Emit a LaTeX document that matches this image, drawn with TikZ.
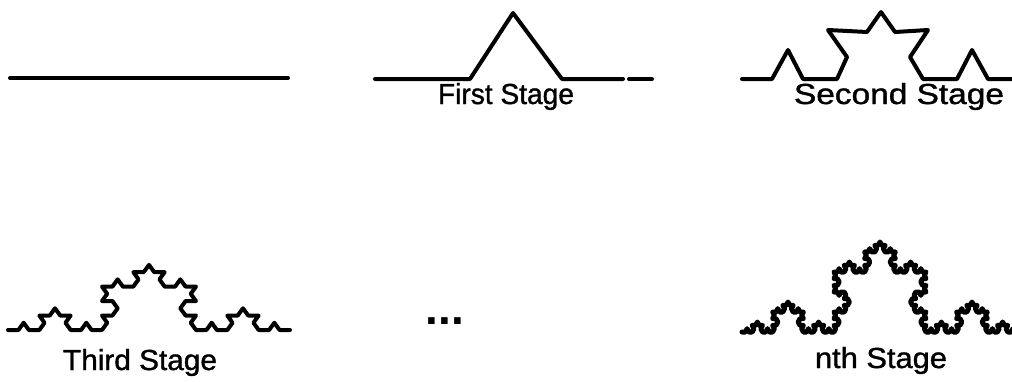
\documentclass[tikz,border=0pt]{standalone}
\usepackage{fontspec}
\setmainfont{Liberation Sans}
\newfontfamily\lblfont[FakeBold=1.2]{Liberation Sans}
\usepackage{graphicx}
\usetikzlibrary{lindenmayersystems}
\pgfdeclarelindenmayersystem{Koch}{\rule{F -> F+F--F+F}}
\tikzset{
  curve/.style={line width=4pt, line join=round, line cap=round},
  lbl/.style={font=\lblfont\fontsize{29}{34}\selectfont, anchor=base, inner sep=0pt},
}
\newcommand{\fitw}[2]{\resizebox{#1pt}{\height}{#2}}
\begin{document}
\begin{tikzpicture}[x=1pt,y=-1pt]
\useasboundingbox (0,0) rectangle (1012,381);
\clip (0,0) rectangle (1012,381);
% stage 0
\coordinate (s0a) at (10,78);
\coordinate (s0b) at (288,78);
\draw[curve] (s0a) -- (s0b);
% stage 1
\draw[curve] (375,79) -- (470,79) -- (513,13) -- (562,79) -- (623,79);
\draw[curve] (629,79) -- (652,79);
% stage 2
\draw[curve] (742,79) -- (772,79) -- (788,50) -- (803,79) -- (837,79) -- (847,57)
  -- (828,30) -- (867,32) -- (881,12) -- (895,32) -- (928,30) -- (910,57)
  -- (923,79) -- (957,79) -- (972,50) -- (988,79) -- (1012,79);
% stage 3
\begin{scope}[shift={(8,330)}, yscale=0.8]
\draw[curve, l-system={Koch, axiom=F, order=3, step=10.444pt, angle=60}] (0,0) lindenmayer system;
\end{scope}
% nth stage
\begin{scope}[shift={(742,332)}, yscale=1.13]
\draw[curve, line width=5pt, l-system={Koch, axiom=F, order=4, step=3.407pt, angle=60}] (0,0) lindenmayer system;
\end{scope}
% labels
\node[lbl] (t1) at (506,104) {\fitw{136}{First Stage}};
\node[lbl] (t2) at (899,104) {\fitw{210}{Second Stage}};
\node[lbl] (t3) at (140,370) {\fitw{154}{Third Stage}};
\node[lbl] (tn) at (881,368) {\fitw{132}{nth Stage}};
\node[lbl, font=\fontsize{46}{50}\selectfont\bfseries] (dots) at (445,324) {...};
\end{tikzpicture}
\end{document}
